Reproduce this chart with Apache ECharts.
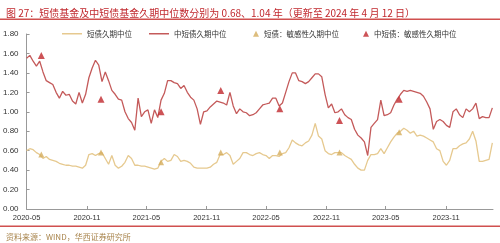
<!DOCTYPE html>
<html><head><meta charset="utf-8">
<script src="https://cdn.jsdelivr.net/npm/echarts@6/dist/echarts.min.js"></script>
<style>html,body{margin:0;padding:0;background:#fff}#c{width:500px;height:243px}</style>
</head><body><div id="c"></div>
<script>
// sampling: one reading every 10 days starting 2020-05-01
const startDate = [2020, 4, 1];
const stepDays = 10;
const midShortValues = [
1.55,1.58,1.52,1.47,1.52,1.41,1.32,1.30,1.28,1.20,
1.14,1.21,1.17,1.18,1.11,1.08,1.20,1.09,1.18,1.35,
1.45,1.53,1.48,1.31,1.41,1.32,1.22,1.18,1.13,1.12,
1.00,0.93,0.89,0.81,1.14,0.95,1.00,1.02,0.88,1.02,
0.94,1.12,1.19,1.32,1.32,1.30,1.29,1.24,1.27,1.20,
1.15,1.12,1.03,0.87,1.00,1.01,1.05,1.08,1.11,1.10,
1.09,1.07,1.20,1.06,0.98,1.03,1.00,0.99,0.96,0.97,
0.99,1.03,1.07,1.08,1.09,1.14,1.14,1.06,1.09,1.20,
1.31,1.40,1.40,1.32,1.31,1.29,1.31,1.35,1.39,1.39,
1.36,1.18,1.04,1.08,0.99,1.00,1.03,0.97,0.94,0.92,
0.82,0.76,0.73,0.69,0.55,0.84,0.88,0.92,1.12,0.96,
0.97,0.99,1.07,1.13,1.18,1.22,1.21,1.22,1.21,1.20,
1.19,1.16,1.10,1.03,0.82,0.90,0.92,0.90,0.86,0.84,
1.00,1.03,0.97,0.94,1.03,1.00,1.03,1.09,0.93,0.95,
0.94,0.94,1.04];
const shortValues = [
0.60,0.62,0.61,0.58,0.56,0.52,0.54,0.51,0.50,0.49,
0.47,0.46,0.45,0.45,0.44,0.44,0.43,0.42,0.45,0.56,
0.57,0.55,0.57,0.58,0.52,0.46,0.55,0.45,0.42,0.44,
0.48,0.55,0.52,0.45,0.45,0.44,0.44,0.43,0.42,0.41,
0.42,0.49,0.52,0.49,0.50,0.56,0.54,0.49,0.50,0.49,
0.47,0.43,0.42,0.42,0.42,0.42,0.43,0.46,0.48,0.56,
0.56,0.58,0.55,0.46,0.49,0.52,0.58,0.58,0.56,0.55,
0.57,0.58,0.56,0.55,0.52,0.55,0.55,0.54,0.57,0.58,
0.63,0.71,0.68,0.66,0.65,0.68,0.70,0.76,0.88,0.75,
0.72,0.60,0.57,0.56,0.58,0.58,0.58,0.55,0.53,0.51,
0.46,0.42,0.40,0.40,0.50,0.56,0.56,0.57,0.62,0.57,
0.63,0.69,0.74,0.78,0.80,0.83,0.81,0.78,0.80,0.75,
0.76,0.75,0.73,0.71,0.69,0.62,0.60,0.49,0.45,0.50,
0.62,0.62,0.65,0.67,0.68,0.72,0.80,0.70,0.49,0.49,
0.50,0.51,0.68];
const sensDates = ['2020-06-15','2020-12-14','2021-06-15','2021-12-14','2022-06-12','2022-12-11','2023-06-11'];
const midShortSens = [1.58,1.13,1.00,1.22,1.03,0.91,1.13];
const shortSens = [0.56,0.58,0.48,0.58,0.58,0.58,0.79];
const xTickLabels = ['2020-05','2020-11','2021-05','2021-11','2022-05','2022-11','2023-05','2023-11'];
const axisEnd = '2024-03-23';
const names = ['短债久期中位','中短债久期中位','短债：敏感性久期中位','中短债：敏感性久期中位'];

function ts(str){const p=str.split('-').map(Number);return new Date(p[0],p[1]-1,p[2]||1).getTime();}
function dayTs(k){return new Date(startDate[0],startDate[1],startDate[2]+k*stepDays).getTime();}
const midData = midShortValues.map((v,i)=>[dayTs(i),v]);
const shortData = shortValues.map((v,i)=>[dayTs(i),v]);
const midSensData = midShortSens.map((v,i)=>[ts(sensDates[i]),v]);
const shortSensData = shortSens.map((v,i)=>[ts(sensDates[i]),v]);
const tickVals = xTickLabels.map(ts);

const FONT = '"Noto Sans CJK SC","Liberation Sans",sans-serif';
const legendBase = {top:25, itemGap:0, textStyle:{fontSize:7.5,color:'#333',fontFamily:FONT}};
const chart = echarts.init(document.getElementById('c'), null, {renderer:'canvas'});
chart.setOption({
  animation:false,
  backgroundColor:'#fff',
  title:[
    {text:'图 27：短债基金及中短债基金久期中位数分别为 0.68、1.04 年（更新至 2024 年 4 月 12 日）',left:1,top:3,
     textStyle:{fontSize:10,fontWeight:'normal',color:'#c0282d',fontFamily:FONT}},
    {text:'资料来源：WIND，华西证券研究所',left:1,top:228,
     textStyle:{fontSize:8,fontWeight:'normal',color:'#a8844c',fontFamily:FONT}}
  ],
  graphic:[
    {type:'rect',shape:{x:0,y:18.5,width:500,height:1.5},style:{fill:'#d0504f'},silent:true},
    {type:'rect',shape:{x:0,y:225.5,width:500,height:1.5},style:{fill:'#d0504f'},silent:true}
  ],
  legend:[
    Object.assign({},legendBase,{left:57,data:[{name:names[0],icon:'rect'}],itemWidth:20,itemHeight:1.5}),
    Object.assign({},legendBase,{left:144,data:[{name:names[1],icon:'rect'}],itemWidth:20,itemHeight:1.5}),
    Object.assign({},legendBase,{left:248,data:[names[2]],itemWidth:6,itemHeight:6}),
    Object.assign({},legendBase,{left:358,data:[names[3]],itemWidth:6,itemHeight:6})
  ],
  grid:{left:25,right:7,top:34,bottom:34,containLabel:false},
  xAxis:{type:'value',min:ts('2020-05-01'),max:ts(axisEnd),
    axisLine:{lineStyle:{color:'#999',width:1}},
    axisTick:{show:true,inside:true,length:3,lineStyle:{color:'#999'},customValues:tickVals},
    axisLabel:{customValues:tickVals,fontSize:7.5,color:'#333',margin:5,fontFamily:'"Liberation Sans",sans-serif',
      formatter:function(v){const d=new Date(v);return d.getFullYear()+'-'+String(d.getMonth()+1).padStart(2,'0');}},
    splitLine:{show:false}},
  yAxis:{type:'value',min:0,max:1.8,interval:0.2,
    axisLine:{show:true,lineStyle:{color:'#999',width:1}},
    axisTick:{show:true,inside:true,length:3,lineStyle:{color:'#999'}},
    axisLabel:{fontSize:8,color:'#333',margin:8,fontFamily:'"Liberation Sans",sans-serif',
      formatter:function(v){return v.toFixed(2);}},
    splitLine:{show:false}},
  series:[
    {name:names[0],type:'line',data:shortData,symbol:'none',lineStyle:{color:'#e6c98f',width:1.3},itemStyle:{color:'#e6c98f'},z:2},
    {name:names[1],type:'line',data:midData,symbol:'none',lineStyle:{color:'#c45a5a',width:1.3},itemStyle:{color:'#c45a5a'},z:2},
    {name:names[2],type:'scatter',data:shortSensData,symbol:'triangle',symbolSize:6,itemStyle:{color:'#d4ad5c'},z:3},
    {name:names[3],type:'scatter',data:midSensData,symbol:'triangle',symbolSize:7,itemStyle:{color:'#c0282d'},z:3}
  ]
});
</script></body></html>
